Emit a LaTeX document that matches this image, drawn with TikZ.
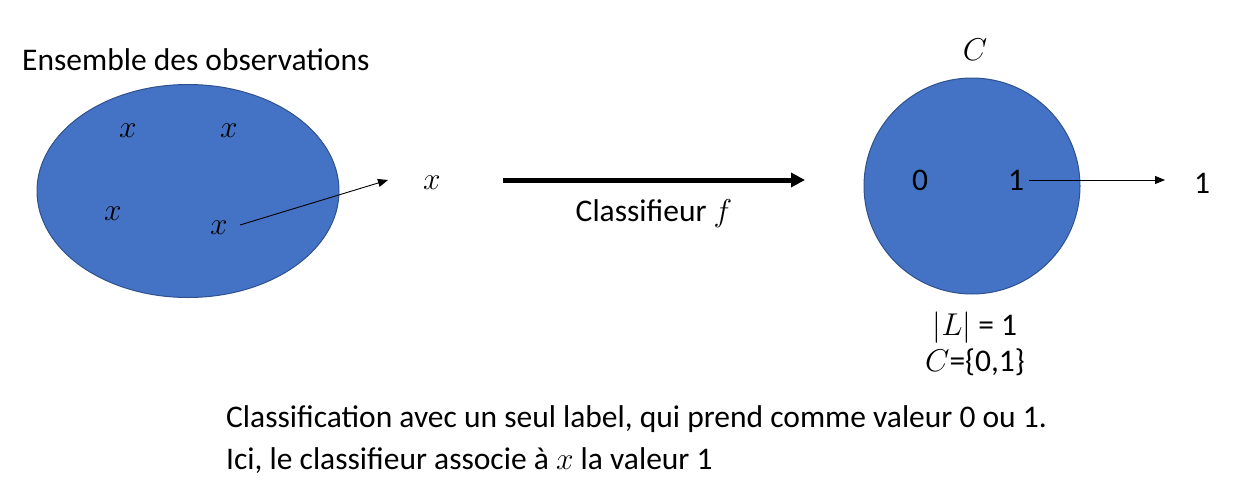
\RequirePackage{fix-cm}
\documentclass[tikz,border=0pt]{standalone}
\usepackage{fontspec}
\setmainfont{Carlito}
\usetikzlibrary{arrows.meta,shapes.geometric}
\definecolor{fillblue}{HTML}{4472C4}
\definecolor{edgeblue}{HTML}{2F528F}
\tikzset{
  blob/.style={fill=fillblue,draw=edgeblue,line width=1pt},
  txt/.style={font=\fontsize{31.5}{38}\selectfont,inner sep=0pt},
  thin arrow/.style={-{Triangle[length=10pt,width=8pt]},line width=0.9pt},
}
\begin{document}
\begin{tikzpicture}[x=1pt,y=-1pt]
\useasboundingbox (0,0) rectangle (1237,498);
\node[blob,ellipse,minimum width=302pt,minimum height=213pt,inner sep=0pt] (obs) at (188,191) {};
\node[blob,circle,minimum size=216pt,inner sep=0pt] (cls) at (972,186) {};
\node[txt,anchor=west] (title) at (22,60) {Ensemble des observations};
\node[txt] (x1) at (128,131) {$x$};
\node[txt] (x2) at (229,131) {$x$};
\node[txt] (x3) at (113,214) {$x$};
\node[txt] (x4) at (219,228) {$x$};
\coordinate (xs) at (240,225);
\coordinate (xe) at (388,180);
\draw[thin arrow] (xs) -- (xe);
\node[txt] (xout) at (432,183) {$x$};
\coordinate (fs) at (503,180);
\coordinate (fe) at (805,180);
\draw[-{Triangle[length=14pt,width=14pt]},line width=5pt] (fs) -- (fe);
\node[txt] (flab) at (654,214) {Classifieur $f$};
\node[txt] (C) at (975,50) {$C$};
\node[txt] (zero) at (920,180) {0};
\node[txt] (one) at (1016,180) {1};
\coordinate (oe) at (1165,180);
\draw[thin arrow] (one.east) ++(5pt,0) -- (oe);
\node[txt] (res) at (1202,183) {1};
\node[txt] (card) at (975,328) {$|L|$ = 1};
\node[txt] (set) at (975,362) {$C$=\{0,1\}};
\node[txt,anchor=west] (l1) at (226,419) {Classification avec un seul label, qui prend comme valeur 0 ou 1.};
\node[txt,anchor=west] (l2) at (226,461) {Ici, le classifieur associe à $x$ la valeur 1};
\end{tikzpicture}
\end{document}
